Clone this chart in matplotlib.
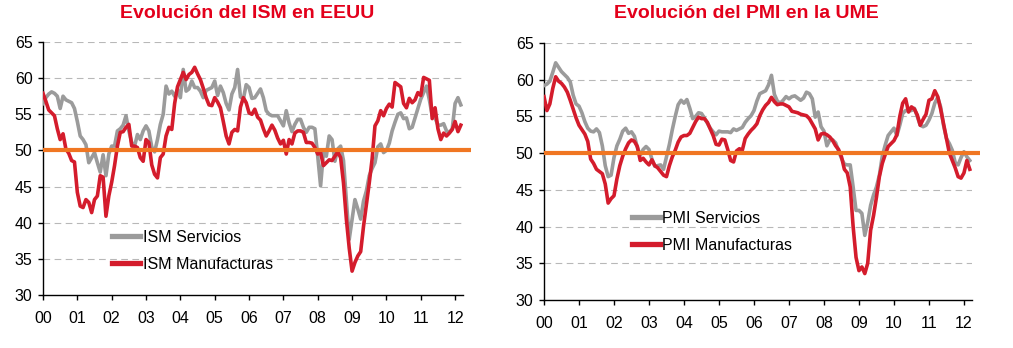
import numpy as np
import matplotlib
matplotlib.use("Agg")
import matplotlib.pyplot as plt

# ---------------- data (monthly, Jan 2000 - Mar 2012) ----------------
year_labels = ["00", "01", "02", "03", "04", "05", "06", "07", "08", "09", "10", "11", "12"]

ism_servicios = [
    56.5, 57.3, 57.8, 58.1, 57.9, 57.5, 55.8, 57.5, 57.0, 56.8, 56.6, 55.8,
    54.0, 52.0, 51.5, 50.8, 48.3, 49.0, 49.7, 48.3, 47.0, 49.4, 46.5, 49.5,
    50.6, 50.6, 52.7, 53.0, 53.5, 54.8, 52.7, 51.1, 50.6, 52.2, 51.5, 52.7,
    53.4, 52.7, 50.5, 49.8, 51.5, 53.6, 55.0, 58.9, 57.8, 58.2, 57.5, 58.4,
    57.3, 61.2, 58.2, 58.5, 59.6, 58.7, 58.7, 58.2, 57.3, 58.3, 58.5, 58.7,
    59.6, 57.6, 58.9, 58.0, 56.5, 55.6, 57.8, 58.7, 61.2, 57.4, 57.1, 59.1,
    58.7, 57.2, 57.3, 57.9, 58.5, 57.3, 55.5, 55.0, 54.8, 54.8, 54.8, 54.1,
    53.4, 55.5, 53.8, 52.6, 53.6, 54.3, 54.3, 53.2, 52.5, 53.2, 53.2, 53.0,
    49.2, 45.1, 49.7, 49.2, 52.0, 51.5, 48.5, 50.2, 50.6, 48.6, 43.2, 37.7,
    40.5, 43.2, 41.9, 40.5, 43.0, 44.4, 46.5, 47.5, 48.3, 50.5, 50.9, 49.7,
    50.0, 51.0, 52.7, 53.9, 55.0, 55.2, 54.4, 54.5, 53.0, 53.2, 54.5, 55.8,
    57.1, 58.0, 58.9, 57.0, 54.8, 54.5, 53.5, 53.5, 53.7, 52.7, 52.5, 53.0,
    56.5, 57.3, 56.3,
]

ism_manufacturas = [
    57.9, 56.8, 55.6, 55.2, 54.8, 53.0, 51.5, 52.3, 50.2, 49.6, 48.6, 48.4,
    44.2, 42.3, 42.1, 43.2, 42.8, 41.4, 43.2, 43.7, 46.5, 46.3, 40.9, 43.7,
    45.6, 47.9, 50.6, 52.5, 52.6, 53.2, 53.6, 50.6, 50.6, 50.4, 49.0, 48.5,
    51.5, 51.1, 48.0, 46.7, 46.2, 49.0, 49.5, 52.0, 53.2, 52.9, 56.5, 58.8,
    59.8, 60.8, 59.8, 60.5, 60.8, 61.5, 60.6, 59.8, 58.6, 57.3, 56.3, 56.2,
    57.3, 56.7, 55.9, 54.0, 52.0, 50.9, 52.5, 52.9, 52.7, 56.0, 57.3, 56.6,
    55.2, 55.0, 55.7, 54.6, 54.2, 53.0, 52.0, 52.7, 53.5, 52.8, 51.7, 50.9,
    51.4, 49.5, 51.5, 50.9, 52.4, 52.7, 52.7, 52.5, 51.1, 51.1, 51.0, 50.4,
    49.5, 49.7, 47.9, 48.3, 48.7, 48.6, 49.2, 49.8, 49.0, 45.5, 40.5, 36.5,
    33.3, 34.5, 35.4, 36.0, 39.5, 42.5, 45.5, 48.8, 53.4, 54.1, 55.5, 54.8,
    55.8, 56.4, 56.0, 59.4, 59.1, 58.8, 56.5, 55.9, 57.2, 56.6, 57.0, 58.0,
    57.6, 60.1, 59.9, 59.7, 54.4, 55.9, 53.0, 51.5, 52.4, 52.0, 52.4, 52.9,
    54.0, 52.6, 53.5,
]

pmi_servicios = [
    59.2, 59.4, 59.8, 61.0, 62.3, 61.7, 61.1, 60.7, 60.3, 59.7, 57.9, 56.7,
    56.4, 55.5, 54.3, 53.4, 53.0, 52.9, 53.3, 52.8, 51.0, 48.3, 46.8, 47.0,
    49.4, 51.0, 51.9, 53.0, 53.4, 52.7, 52.9, 52.3, 50.8, 49.7, 50.5, 50.9,
    50.5, 49.2, 48.2, 48.3, 48.4, 47.8, 49.5, 51.2, 53.2, 55.0, 56.6, 57.2,
    56.8, 57.3, 56.1, 54.7, 55.0, 55.5, 55.4, 54.8, 54.1, 53.4, 52.9, 52.5,
    53.0, 52.9, 52.9, 52.9, 52.8, 53.3, 53.1, 53.3, 53.5, 54.2, 54.7, 55.1,
    55.8, 57.1, 58.1, 58.3, 58.5, 59.3, 60.6, 58.0, 57.1, 56.8, 57.2, 57.7,
    57.4, 57.7, 57.8, 57.5, 57.2, 57.5, 58.3, 58.1, 57.4, 54.9, 55.6, 53.6,
    53.0, 51.0, 51.8, 51.8, 51.4, 50.3, 49.3, 48.5, 48.4, 48.4, 45.4, 42.2,
    42.2, 41.8, 38.8, 40.6, 42.9, 44.3, 45.4, 47.0, 49.6, 51.1, 52.4, 52.9,
    53.4, 52.4, 53.8, 55.4, 55.8, 55.8, 55.8, 56.1, 55.0, 53.8, 53.6, 53.8,
    54.5, 55.4, 56.8, 57.6, 56.3, 53.8, 52.0, 51.3, 50.4, 48.7, 48.4, 49.4,
    50.2, 49.5, 49.0,
]

pmi_manufacturas = [
    57.7, 55.8, 56.7, 58.8, 60.4, 59.8, 59.5, 59.0, 58.3, 57.2, 56.0, 54.8,
    53.8, 53.2, 52.6, 51.6, 49.2, 48.6, 47.8, 47.5, 47.2, 45.8, 43.2, 43.8,
    44.2, 46.5, 48.3, 49.6, 50.6, 51.4, 51.8, 51.6, 50.9, 49.0, 49.3, 48.8,
    48.4, 49.1, 48.3, 48.0, 47.5, 47.0, 46.8, 48.3, 49.5, 50.4, 51.5, 52.2,
    52.4, 52.4, 52.7, 53.5, 54.3, 54.9, 54.7, 54.7, 54.2, 53.3, 52.4, 51.2,
    51.1, 51.9, 51.8, 50.5, 49.0, 48.8, 50.3, 50.6, 50.4, 52.0, 52.6, 53.1,
    53.5, 54.0, 55.1, 55.9, 56.5, 56.9, 57.6, 57.0, 56.6, 56.7, 56.7, 56.5,
    56.3, 55.7, 55.6, 55.5, 55.3, 55.2, 55.1, 54.7, 54.0, 53.3, 51.8, 52.6,
    52.7, 52.5, 52.2, 51.7, 51.0, 50.5, 49.5, 47.8, 47.3, 45.4, 40.0, 35.8,
    34.0, 34.5, 33.6, 35.0, 39.5, 41.5, 44.0, 46.8, 48.6, 49.8, 50.9, 51.3,
    51.7, 52.5, 55.0, 56.8, 57.4, 55.6, 56.3, 56.0, 55.2, 53.8, 54.6, 55.3,
    57.2, 57.4, 58.5, 57.7, 56.0, 54.0, 52.0, 50.0, 49.0, 48.0, 46.8, 46.6,
    47.3, 49.0, 47.8,
]

threshold = 50

# ---------------- style ----------------
plt.rcParams['font.family'] = ['Liberation Sans', 'DejaVu Sans']
GRAY = '#9b9b9b'
RED = '#d41c2c'
ORANGE = '#f07622'
TITLE_RED = '#e3001b'
GRID = '#b8b8b8'

fig = plt.figure(figsize=(10.13, 3.48), dpi=100)
fig.patch.set_facecolor('white')

panels = [
    dict(rect=[43 / 1013, 1 - 295 / 348, 420 / 1013, 253 / 348],
         title="Evolución del ISM en EEUU", tx=247 / 1013,
         serv=ism_servicios, manu=ism_manufacturas,
         lab=("ISM Servicios", "ISM Manufacturas"), leg=(0.165, 0.258)),
    dict(rect=[544 / 1013, 1 - 300 / 348, 428 / 1013, 257 / 348],
         title="Evolución del PMI en la UME", tx=746 / 1013,
         serv=pmi_servicios, manu=pmi_manufacturas,
         lab=("PMI Servicios", "PMI Manufacturas"), leg=(0.205, 0.348)),
]

for p in panels:
    ax = fig.add_axes(p['rect'])
    t = np.arange(len(p['serv'])) / 12.0
    ax.set_xlim(0, 12.23)
    ax.set_ylim(30, 65)
    for g in range(35, 70, 5):
        ax.axhline(g, color=GRID, lw=0.8, ls=(0, (6, 4)), zorder=1)
    ax.plot(t, p['serv'], color=GRAY, lw=2.6, label=p['lab'][0], zorder=3,
            solid_joinstyle='round')
    ax.plot(t, p['manu'], color=RED, lw=2.6, label=p['lab'][1], zorder=4,
            solid_joinstyle='round')
    ax.plot([0, 12.45], [threshold, threshold], color=ORANGE, lw=3.0,
            zorder=5, clip_on=False, solid_capstyle='butt')

    for s in ('top', 'right'):
        ax.spines[s].set_visible(False)
    for s in ('left', 'bottom'):
        ax.spines[s].set_color('black')
        ax.spines[s].set_linewidth(1.0)
    ax.set_yticks(range(30, 70, 5))
    ax.set_xticks(range(13))
    ax.set_xticklabels(year_labels)
    ax.tick_params(axis='both', direction='out', length=3.5, width=1.0,
                   labelsize=11.5, colors='black')
    ax.tick_params(axis='x', pad=8)
    ax.tick_params(axis='y', pad=4)

    leg = ax.legend(loc='upper left', bbox_to_anchor=p['leg'], frameon=False,
                    fontsize=11.5, handlelength=1.75, handletextpad=0.15,
                    borderpad=0, borderaxespad=0, labelspacing=0.75)
    for h in leg.get_lines():
        h.set_linewidth(3.8)

    fig.text(p['tx'], 1 - 14 / 348, p['title'], ha='center', va='center',
             fontsize=14, fontweight='bold', color=TITLE_RED)

fig.savefig('out.png', dpi=100, facecolor='white')
